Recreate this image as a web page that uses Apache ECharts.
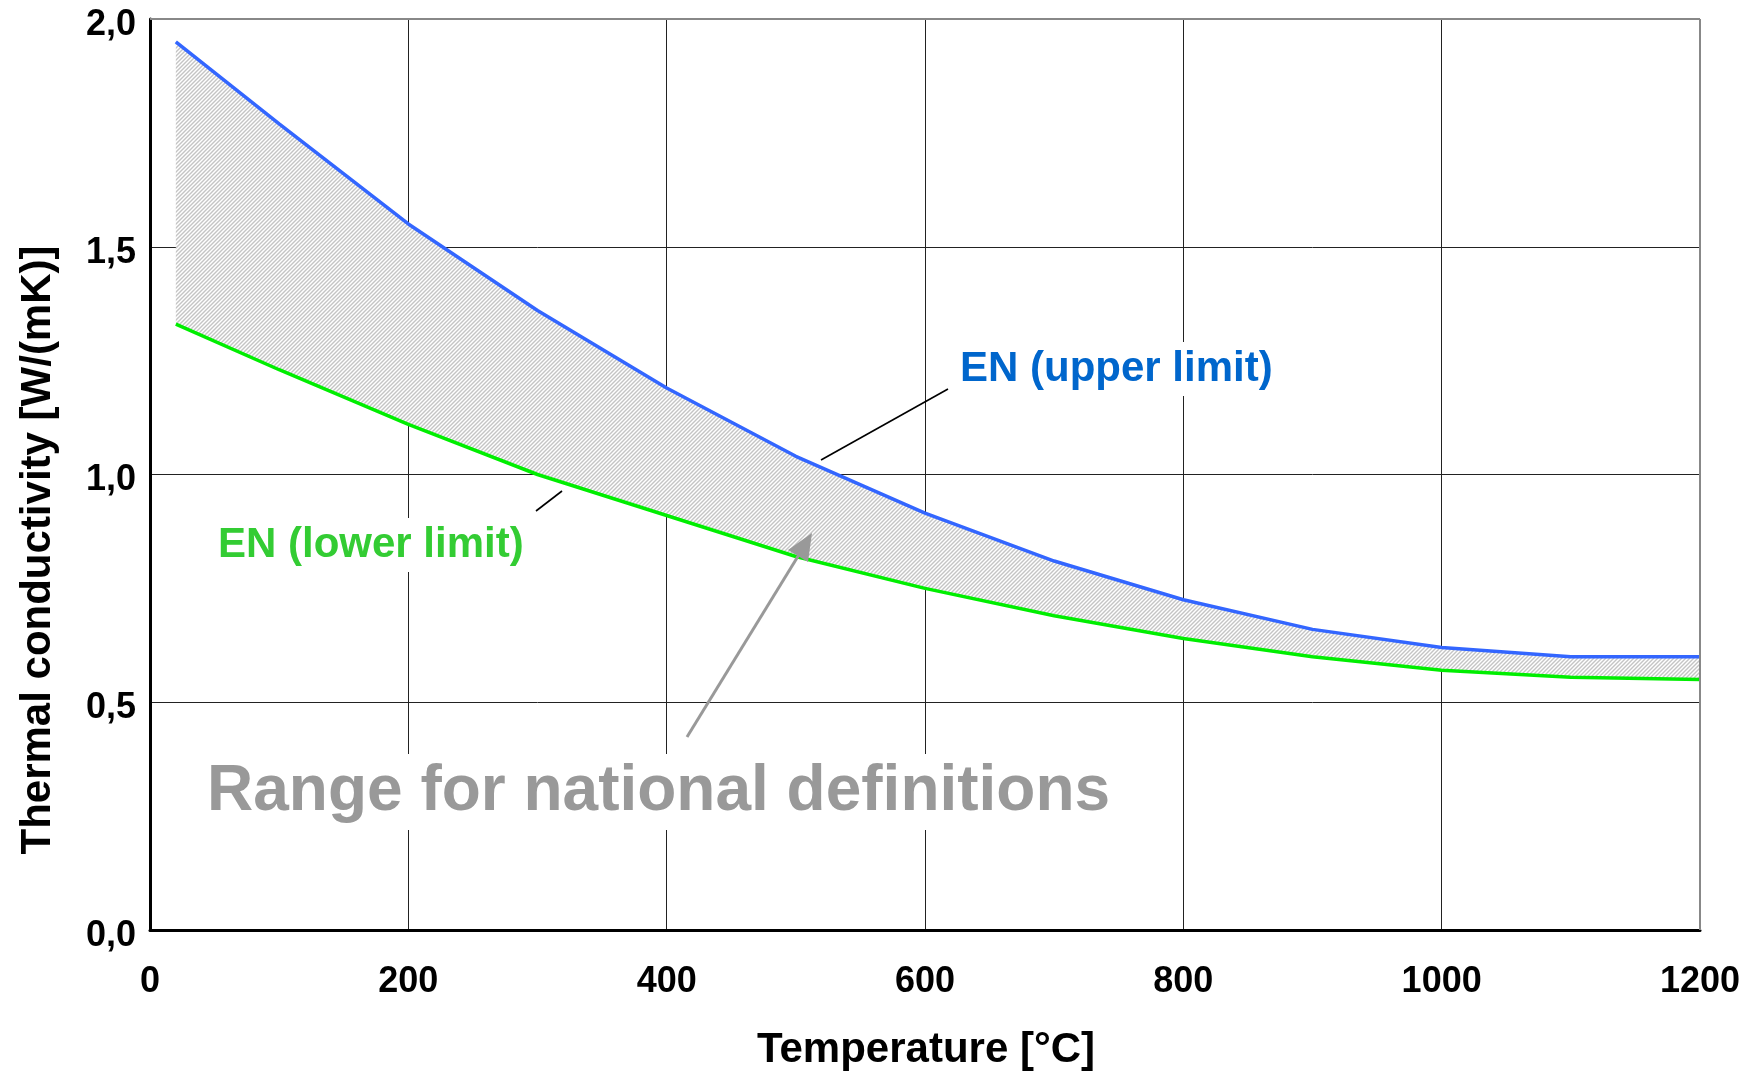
<!DOCTYPE html>
<html>
<head>
<meta charset="utf-8">
<script src="https://cdn.jsdelivr.net/npm/echarts@6/dist/echarts.min.js"></script>
<style>
html,body{margin:0;padding:0;background:#fff;}
#chart{width:1758px;height:1081px;}
</style>
</head>
<body>
<div id="chart"></div>
<script>
// ---- data ----
const temperatures = [20, 100, 200, 300, 400, 500, 600, 700, 800, 900, 1000, 1100, 1200];
const upperLimit   = [1.95, 1.77, 1.55, 1.36, 1.19, 1.04, 0.915, 0.81, 0.725, 0.66, 0.62, 0.60, 0.60];
const lowerLimit   = [1.33, 1.23, 1.11, 1.00, 0.91, 0.82, 0.75, 0.69, 0.64, 0.60, 0.57, 0.555, 0.55];
const xTickLabels  = ['0', '200', '400', '600', '800', '1000', '1200'];
const yTickLabels  = ['0,0', '0,5', '1,0', '1,5', '2,0'];
const xTitle = 'Temperature [°C]';
const yTitle = 'Thermal conductivity [W/(mK)]';
const upperLabel = 'EN (upper limit)';
const lowerLabel = 'EN (lower limit)';
const rangeLabel = 'Range for national definitions';

const FONT = "'Liberation Sans', Arial, Helvetica, sans-serif";

function makeHatch() {
  const c = document.createElement('canvas');
  c.width = 4; c.height = 4;
  const g = c.getContext('2d');
  g.fillStyle = '#ffffff';
  g.fillRect(0, 0, 4, 4);
  g.strokeStyle = '#c4c4c4';
  g.lineWidth = 1.4;
  g.beginPath();
  g.moveTo(0, 4); g.lineTo(4, 0);
  g.moveTo(-1, 1); g.lineTo(1, -1);
  g.moveTo(3, 5); g.lineTo(5, 3);
  g.stroke();
  return c;
}
const hatch = makeHatch();

const lowerPairs = temperatures.map((t, i) => [t, lowerLimit[i]]);
const upperPairs = temperatures.map((t, i) => [t, upperLimit[i]]);

const chart = echarts.init(document.getElementById('chart'), null, {renderer: 'canvas'});

const option = {
  animation: false,
  backgroundColor: '#ffffff',
  grid: {left: 150, right: 58, top: 19, bottom: 151, show: false},
  xAxis: {
    type: 'value', min: 0, max: 1200, interval: 200,
    axisLine: {show: true, onZero: false, lineStyle: {color: '#000', width: 3}},
    axisTick: {show: false},
    axisLabel: {
      margin: 34, color: '#000', fontFamily: FONT, fontWeight: 'bold', fontSize: 36,
      formatter: (v) => xTickLabels[Math.round(v / 200)]
    },
    splitLine: {show: true, lineStyle: {color: ['#000', '#222', '#222', '#222', '#222', '#222', '#888'], width: 1}}
  },
  yAxis: {
    type: 'value', min: 0, max: 2, interval: 0.5,
    axisLine: {show: true, onZero: false, lineStyle: {color: '#000', width: 3}},
    axisTick: {show: false},
    axisLabel: {
      margin: 14, color: '#000', fontFamily: FONT, fontWeight: 'bold', fontSize: 36,
      verticalAlign: 'top', lineHeight: 12,
      formatter: (v) => yTickLabels[Math.round(v / 0.5)]
    },
    splitLine: {show: true, lineStyle: {color: ['#000', '#222', '#222', '#222', '#888'], width: 1}}
  },
  series: [
    {
      name: 'band', type: 'custom', silent: true, z: 2,
      data: [[temperatures[0], lowerLimit[0]]],
      renderItem: function (params, api) {
        const pts = upperPairs.map(p => api.coord(p))
          .concat(lowerPairs.slice().reverse().map(p => api.coord(p)));
        return {type: 'polygon', shape: {points: pts}, style: {fill: {image: hatch, repeat: 'repeat'}, stroke: null}};
      }
    },
    {
      name: lowerLabel, type: 'line', data: lowerPairs, symbol: 'none',
      lineStyle: {color: '#00ee00', width: 3.5}, z: 4
    },
    {
      name: upperLabel, type: 'line', data: upperPairs, symbol: 'none',
      lineStyle: {color: '#3366ff', width: 3.5}, z: 4
    }
  ],
  graphic: [
    // top & right frame
    {type: 'line', z: 50, shape: {x1: 150, y1: 19, x2: 1700, y2: 19}, style: {stroke: '#888', lineWidth: 2}},
    {type: 'line', z: 50, shape: {x1: 1700, y1: 19, x2: 1700, y2: 930}, style: {stroke: '#888', lineWidth: 2}},
    // axis titles
    {type: 'text', z: 60, style: {x: 926, y: 1050, text: xTitle, font: 'bold 42px ' + FONT, fill: '#000', align: 'center', verticalAlign: 'middle'}},
    {type: 'text', z: 60, x: 38, y: 550, rotation: Math.PI / 2,
      style: {x: 0, y: 0, text: yTitle, font: 'bold 42px ' + FONT, fill: '#000', align: 'center', verticalAlign: 'middle'}},
    // labels with white backgrounds
    {type: 'text', z: 60, style: {x: 954, y: 369, text: upperLabel, font: 'bold 42px ' + FONT, fill: '#0066cc', align: 'left', verticalAlign: 'middle', backgroundColor: '#fff', padding: [6, 6]}},
    {type: 'text', z: 60, style: {x: 212, y: 545, text: lowerLabel, font: 'bold 42px ' + FONT, fill: '#33cc33', align: 'left', verticalAlign: 'middle', backgroundColor: '#fff', padding: [6, 6]}},
    {type: 'text', z: 60, style: {x: 200, y: 792, text: rangeLabel, font: 'bold 64px ' + FONT, fill: '#999999', align: 'left', verticalAlign: 'middle', backgroundColor: '#fff', padding: [6, 7]}},
    // leader lines
    {type: 'line', z: 60, shape: {x1: 948, y1: 389, x2: 821, y2: 460}, style: {stroke: '#000', lineWidth: 1.6}},
    {type: 'line', z: 60, shape: {x1: 562, y1: 491, x2: 536, y2: 511}, style: {stroke: '#000', lineWidth: 1.6}},
    // arrow
    {type: 'line', z: 60, shape: {x1: 687, y1: 737, x2: 800, y2: 553}, style: {stroke: '#999', lineWidth: 3}},
    {type: 'polygon', z: 60, shape: {points: [[812, 533], [808, 562], [788, 550]]}, style: {fill: '#999'}}
  ]
};
chart.setOption(option);
</script>
</body>
</html>
